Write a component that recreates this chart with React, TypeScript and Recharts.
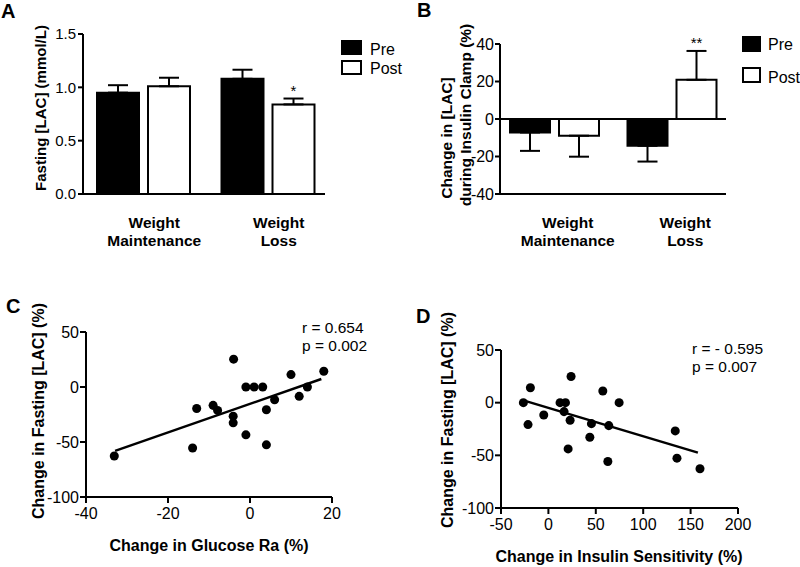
import React from 'react';
import { BarChart, Bar, XAxis, YAxis, ErrorBar, LabelList, ReferenceLine, ScatterChart, Scatter } from 'recharts';

const FONT = "'Liberation Sans', Arial, Helvetica, sans-serif";
const W = 800;
const H = 567;

const groups = ['Weight Maintenance', 'Weight Loss'];

// A: fasting lactate, mmol/L
const fastPre = [0.95, 1.08];
const fastPost = [1.01, 0.84];
const fastPreErr = [0.07, 0.085];
const fastPostErr = [0.08, 0.055];
const fastSig = ['', '*'];
const fastTicks = [0, 0.5, 1, 1.5];

// B: change in lactate during clamp, %
const clampPre = [-7.2, -14.3];
const clampPost = [-8.9, 20.9];
const clampPreErr = [9.8, 8.4];
const clampPostErr = [11.2, 15.4];
const clampSig = ['', '**'];
const clampTicks = [-40, -20, 0, 20, 40];

// C: glucose Ra vs fasting lactate
const glucoseRa = [-33.1, -14.0, -13.0, -9.0, -7.9, -4.0, -4.1, -4.1, -1.0, -1.0, 1.0, 3.1, 4.0, 4.0, 6.0, 10.0, 12.0, 14.0, 18.0];
const lacVsRa = [-62.7, -55.4, -19.5, -16.7, -21.3, 25.3, -26.5, -32.6, 0, -43.5, 0, 0, -20.7, -52.6, -11.6, 11.3, -8.5, 0, 14.3];
const raFitX = [-32.9, 17.4];
const raFitY = [-58.1, 7.3];
const raTicks = [-40, -20, 0, 20];

// D: insulin sensitivity vs fasting lactate
const insulinSens = [-26.4, -19.0, -21.5, -4.9, 12.3, 18.0, 16.5, 22.9, 23.9, 20.8, 45.4, 43.7, 57.4, 63.7, 62.7, 74.6, 133.8, 135.6, 159.9];
const lacVsSi = [0, 14.2, -20.8, -11.7, 0, 0, -8.5, -16.7, 24.9, -43.9, -19.9, -32.8, 11.1, -21.8, -55.9, 0, -26.8, -52.7, -62.8];
const siFitX = [-26.4, 157.7];
const siFitY = [2.2, -47.4];
const siTicks = [-50, 0, 50, 100, 150, 200];

const lacTicks = [-100, -50, 0, 50];

// error bars only go away from zero, like the original
const oneSided = (v: number, e: number) => (v >= 0 ? [0, e] : [e, 0]);

const fastData = groups.map((g, i) => ({
  group: g,
  pre: fastPre[i],
  post: fastPost[i],
  preErr: oneSided(fastPre[i], fastPreErr[i]),
  postErr: oneSided(fastPost[i], fastPostErr[i]),
  sig: fastSig[i],
}));

const clampData = groups.map((g, i) => ({
  group: g,
  pre: clampPre[i],
  post: clampPost[i],
  preErr: oneSided(clampPre[i], clampPreErr[i]),
  postErr: oneSided(clampPost[i], clampPostErr[i]),
  sig: clampSig[i],
}));

const raData = glucoseRa.map((x, i) => ({ x, y: lacVsRa[i] }));
const siData = insulinSens.map((x, i) => ({ x, y: lacVsSi[i] }));

const axisStyle = { stroke: '#000', strokeWidth: 2 };

const CatTick = (dx: number) => (props: any) => {
  const { x, y, payload } = props;
  const lines = String(payload.value).split(' ');
  const cx = Number(x) + dx;
  return (
    <text x={cx} y={Number(y)} textAnchor="middle" fontWeight="bold" fontSize={15.5} fill="#000">
      <tspan x={cx} dy={34}>{lines[0]}</tspan>
      <tspan x={cx} dy={18}>{lines[1]}</tspan>
    </text>
  );
};

const starLabel = (vals: number[], errs: number[]) => (p: any) => {
  if (!p.value) return null;
  const vb = p.viewBox && p.viewBox.width != null ? p.viewBox : p;
  const x = Number(vb.x);
  const y = Number(vb.y);
  const w = Number(vb.width);
  const h = Number(vb.height);
  const i = p.index;
  const capY = y - errs[i] * (h / vals[i]);
  return (
    <text x={x + w / 2} y={capY - 3} textAnchor="middle" fontSize={15} fill="#000">
      {p.value}
    </text>
  );
};

const Layer: React.FC<{ children: React.ReactNode }> = ({ children }) => (
  <div style={{ position: 'absolute', left: 0, top: 0 }}>{children}</div>
);

const rotTitle = (x: number, y: number, text: string, size: number) => (
  <text x={x} y={y} transform={`rotate(-90 ${x} ${y})`} textAnchor="middle" fontWeight="bold" fontSize={size} fill="#000">
    {text}
  </text>
);

export default function App() {
  return (
    <div style={{ position: 'absolute', left: 0, top: 0, width: W, height: H, background: '#fff', fontFamily: FONT, overflow: 'hidden' }}>
      {/* A */}
      <Layer>
        <BarChart width={W} height={H} data={fastData} margin={{ top: 34, left: 33, right: 475, bottom: 323 }} barGap={9}>
          <XAxis dataKey="group" height={50} axisLine={axisStyle} tickLine={false} tickSize={0} tickMargin={0}
            padding={{ left: -2, right: -5 }} tick={CatTick(11)} interval={0} />
          <YAxis width={50} domain={[0, 1.5]} ticks={fastTicks} tickFormatter={(v) => Number(v).toFixed(1)}
            axisLine={axisStyle} tickLine={axisStyle} tickSize={5} tickMargin={2} tick={{ fill: '#000', fontSize: 15 }} />
          <Bar dataKey="pre" fill="#000" stroke="#000" strokeWidth={2} barSize={42} isAnimationActive={false}>
            <ErrorBar dataKey="preErr" width={10} stroke="#000" strokeWidth={2} direction="y" />
          </Bar>
          <Bar dataKey="post" fill="#fff" stroke="#000" strokeWidth={2} barSize={42} isAnimationActive={false}>
            <ErrorBar dataKey="postErr" width={10} stroke="#000" strokeWidth={2} direction="y" />
            <LabelList dataKey="sig" content={starLabel(fastPost, fastPostErr)} />
          </Bar>
          <text x={1} y={18} fontWeight="bold" fontSize={20} fill="#000">A</text>
          {rotTitle(46, 108, 'Fasting [LAC] (mmol/L)', 15)}
          <rect x={341} y={40} width={21} height={15} fill="#000" />
          <text x={370} y={55} fontSize={16} fill="#000">Pre</text>
          <rect x={342} y={61} width={19} height={13} fill="#fff" stroke="#000" strokeWidth={2} />
          <text x={370} y={74} fontSize={16} fill="#000">Post</text>
        </BarChart>
      </Layer>

      {/* B */}
      <Layer>
        <BarChart width={W} height={H} data={clampData} margin={{ top: 44, left: 450, right: 74, bottom: 323 }} barGap={9}>
          <XAxis dataKey="group" height={50} axisLine={axisStyle} tickLine={false} tickSize={0} tickMargin={0}
            padding={{ left: -4, right: -5 }} tick={CatTick(13)} interval={0} />
          <YAxis width={50} domain={[-40, 40]} ticks={clampTicks}
            axisLine={axisStyle} tickLine={axisStyle} tickSize={5} tickMargin={1} tick={{ fill: '#000', fontSize: 16 }} />
          <Bar dataKey="pre" fill="#000" stroke="#000" strokeWidth={2} barSize={40} isAnimationActive={false}>
            <ErrorBar dataKey="preErr" width={10} stroke="#000" strokeWidth={2} direction="y" />
          </Bar>
          <Bar dataKey="post" fill="#fff" stroke="#000" strokeWidth={2} barSize={40} isAnimationActive={false}>
            <ErrorBar dataKey="postErr" width={10} stroke="#000" strokeWidth={2} direction="y" />
            <LabelList dataKey="sig" content={starLabel(clampPost, clampPostErr)} />
          </Bar>
          <ReferenceLine y={0} stroke="#000" strokeWidth={2} />
          <text x={417} y={17} fontWeight="bold" fontSize={20} fill="#000">B</text>
          {rotTitle(452, 138, 'Change in [LAC]', 15.5)}
          {rotTitle(471, 115, 'during Insulin Clamp (%)', 15.5)}
          <rect x={742} y={36} width={19} height={16} fill="#000" />
          <text x={768} y={50} fontSize={16} fill="#000">Pre</text>
          <rect x={743} y={68} width={17} height={14} fill="#fff" stroke="#000" strokeWidth={2} />
          <text x={768} y={83} fontSize={16} fill="#000">Post</text>
        </BarChart>
      </Layer>

      {/* C */}
      <Layer>
        <ScatterChart width={W} height={H} margin={{ top: 332, left: 36, right: 468, bottom: 40 }}>
          <XAxis type="number" dataKey="x" domain={[-40, 20]} ticks={raTicks} height={30}
            axisLine={axisStyle} tickLine={axisStyle} tickSize={6} tickMargin={5} tick={{ fill: '#000', fontSize: 16 }} />
          <YAxis type="number" dataKey="y" domain={[-100, 50]} ticks={lacTicks} width={50}
            axisLine={axisStyle} tickLine={axisStyle} tickSize={6} tickMargin={1} tick={{ fill: '#000', fontSize: 16 }} />
          <Scatter data={raData} fill="#000" isAnimationActive={false} />
          <ReferenceLine segment={[{ x: raFitX[0], y: raFitY[0] }, { x: raFitX[1], y: raFitY[1] }]} stroke="#000" strokeWidth={2.5} />
          <text x={6} y={313} fontWeight="bold" fontSize={20} fill="#000">C</text>
          {rotTitle(44, 411, 'Change in Fasting [LAC] (%)', 16)}
          <text x={209} y={551} textAnchor="middle" fontWeight="bold" fontSize={16} fill="#000">Change in Glucose Ra (%)</text>
          <text x={302} y={333} fontSize={15.5} fill="#000">r = 0.654</text>
          <text x={302} y={351} fontSize={15.5} fill="#000">p = 0.002</text>
        </ScatterChart>
      </Layer>

      {/* D */}
      <Layer>
        <ScatterChart width={W} height={H} margin={{ top: 350, left: 451, right: 62, bottom: 29 }}>
          <XAxis type="number" dataKey="x" domain={[-50, 200]} ticks={siTicks} height={30}
            axisLine={axisStyle} tickLine={axisStyle} tickSize={6} tickMargin={5} tick={{ fill: '#000', fontSize: 16 }} />
          <YAxis type="number" dataKey="y" domain={[-100, 50]} ticks={lacTicks} width={50}
            axisLine={axisStyle} tickLine={axisStyle} tickSize={6} tickMargin={1} tick={{ fill: '#000', fontSize: 16 }} />
          <Scatter data={siData} fill="#000" isAnimationActive={false} />
          <ReferenceLine segment={[{ x: siFitX[0], y: siFitY[0] }, { x: siFitX[1], y: siFitY[1] }]} stroke="#000" strokeWidth={2.5} />
          <text x={416} y={323} fontWeight="bold" fontSize={20} fill="#000">D</text>
          {rotTitle(453, 420, 'Change in Fasting [LAC] (%)', 16)}
          <text x={619} y={562} textAnchor="middle" fontWeight="bold" fontSize={16} fill="#000">Change in Insulin Sensitivity (%)</text>
          <text x={692} y={354} fontSize={15.5} fill="#000">r = - 0.595</text>
          <text x={692} y={372} fontSize={15.5} fill="#000">p = 0.007</text>
        </ScatterChart>
      </Layer>
    </div>
  );
}
